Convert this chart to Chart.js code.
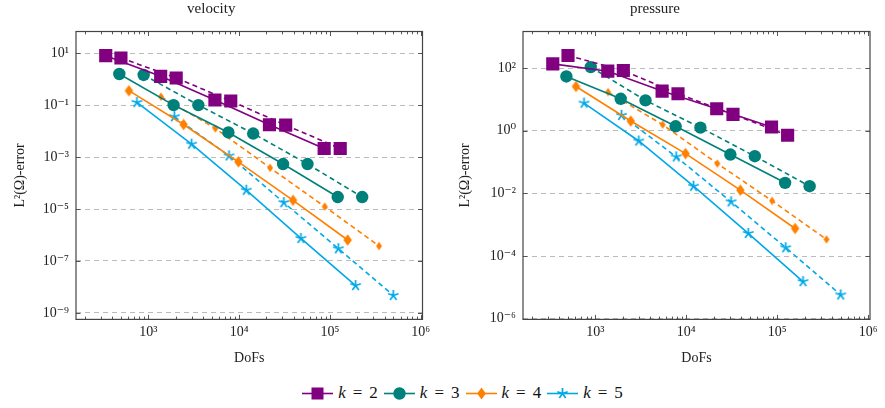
<!DOCTYPE html>
<html>
<head>
<meta charset="utf-8">
<script src="https://cdn.jsdelivr.net/npm/chart.js@4.4.1/dist/chart.umd.min.js"></script>
<style>
  body { margin: 0; background: #fff; width: 885px; height: 408px; overflow: hidden; position: relative; }
  #velBox { position: absolute; left: 0; top: 0; }
  #presBox { position: absolute; left: 440px; top: 0; }
  #legend { position: absolute; top: 383px; left: 20px; width: 885px; text-align: center;
            font-family: "Liberation Serif", serif; font-size: 17px; color: #111; }
  #legend span.item { display: inline-flex; align-items: center; margin: 0 3px; }
  #legend span.eq { margin: 0 7px; }
  #legend svg { margin-right: 5px; }
</style>
</head>
<body>
<div id="velBox"><canvas id="velChart" width="440" height="373"></canvas></div>
<div id="presBox"><canvas id="presChart" width="445" height="373"></canvas></div>
<div id="legend"></div>
<script>
// degrees of freedom, solid and dashed runs
const dofsK2Solid  = [340, 1370, 5420, 21600, 86500];
const dofsK2Dashed = [500, 2030, 8100, 32600, 130000];
const dofsK3Solid  = [480, 1900, 7630, 30500, 122000];
const dofsK3Dashed = [890, 3560, 14300, 56700, 227000];
const dofsK4Solid  = [612, 2450, 9810, 39300, 157000];
const dofsK4Dashed = [1380, 5490, 21950, 87700, 348000];
const dofsK5Solid  = [750, 3000, 12000, 48000, 192000];
const dofsK5Dashed = [1940, 7750, 31100, 124000, 499000];

// velocity L2 errors
const velK2Solid  = [8.1, 1.29, 0.158, 0.0176, 0.00215];
const velK2Dashed = [6.6, 1.12, 0.145, 0.0171, 0.00215];
const velK3Solid  = [1.59, 0.101, 0.0089, 5.4e-4, 2.9e-5];
const velK3Dashed = [1.46, 0.101, 0.0081, 5.4e-4, 2.9e-5];
const velK4Solid  = [0.362, 0.018, 6.6e-4, 2.17e-5, 6.4e-7];
const velK4Dashed = [0.212, 0.0127, 3.85e-4, 1.24e-5, 3.75e-7];
const velK5Solid  = [0.128, 0.00316, 5.3e-5, 7.4e-7, 1.13e-8];
const velK5Dashed = [0.0359, 0.00112, 1.77e-5, 2.96e-7, 4.7e-9];

// pressure L2 errors
const presK2Solid  = [137, 80, 18.5, 5.07, 1.32];
const presK2Dashed = [253, 84, 15.2, 3.34, 0.718];
const presK3Solid  = [54.3, 10.5, 1.39, 0.174, 0.0218];
const presK3Dashed = [108, 9.33, 1.26, 0.154, 0.017];
const presK4Solid  = [26, 2.05, 0.187, 0.0127, 7.6e-4];
const presK4Dashed = [17.2, 1.57, 0.0898, 0.0058, 3.4e-4];
const presK5Solid  = [7.67, 0.473, 0.017, 5.3e-4, 1.53e-5];
const presK5Dashed = [3.11, 0.147, 0.0054, 1.85e-4, 5.75e-6];

const legendLabels = ['k = 2', 'k = 3', 'k = 4', 'k = 5'];
const xTicks = [1e3, 1e4, 1e5, 1e6];
const velYTicks = [1e1, 1e-1, 1e-3, 1e-5, 1e-7, 1e-9];
const presYTicks = [1e2, 1e0, 1e-2, 1e-4, 1e-6];

const colors = ['rgb(128,0,128)', 'rgb(0,128,122)', 'rgb(255,128,0)', 'rgb(0,168,232)'];
const serif = '"Liberation Serif", "DejaVu Serif", serif';

// custom marker canvases (diamond, star)
function diamondCanvas(color, w, h) {
  const c = document.createElement('canvas');
  c.width = Math.ceil(w) + 2; c.height = Math.ceil(h) + 2;
  const g = c.getContext('2d');
  const cx = c.width / 2, cy = c.height / 2;
  g.fillStyle = color;
  g.beginPath();
  g.moveTo(cx, cy - h / 2); g.lineTo(cx + w / 2, cy);
  g.lineTo(cx, cy + h / 2); g.lineTo(cx - w / 2, cy);
  g.closePath(); g.fill();
  return c;
}
function starCanvas(color, r) {
  const c = document.createElement('canvas');
  c.width = c.height = Math.ceil(2 * r) + 4;
  const g = c.getContext('2d');
  const cx = c.width / 2, cy = c.height / 2;
  g.strokeStyle = color; g.lineWidth = 1.7; g.lineCap = 'butt';
  g.beginPath();
  for (let i = 0; i < 5; i++) {
    const a = -Math.PI / 2 + i * 2 * Math.PI / 5;
    g.moveTo(cx, cy);
    g.lineTo(cx + r * Math.cos(a), cy + r * Math.sin(a));
  }
  g.stroke();
  return c;
}

const markers = [
  { solid: { style: 'rect', radius: 9.3 }, dashed: { style: 'rect', radius: 9.3 } },
  { solid: { style: 'circle', radius: 6.2 }, dashed: { style: 'circle', radius: 6.2 } },
  { solid: { style: diamondCanvas(colors[2], 8.5, 11.5) }, dashed: { style: diamondCanvas(colors[2], 6, 8.5) } },
  { solid: { style: starCanvas(colors[3], 5.5) }, dashed: { style: starCanvas(colors[3], 5.5) } }
];

function pts(xs, ys) { return xs.map((x, i) => ({ x: x, y: ys[i] })); }

function sup(n) {
  const m = { '-': '\u207B', '0': '\u2070', '1': '\u00B9', '2': '\u00B2', '3': '\u00B3',
    '4': '\u2074', '5': '\u2075', '6': '\u2076', '7': '\u2077', '8': '\u2078', '9': '\u2079' };
  return String(n).split('').map(ch => m[ch]).join('');
}
function powLabel(v) { return '10' + sup(Math.round(Math.log10(v))); }

function makeSet(k, kind, xs, ys) {
  const mk = markers[k][kind];
  return {
    label: legendLabels[k] + ' ' + kind,
    data: pts(xs, ys),
    showLine: true,
    borderColor: colors[k],
    backgroundColor: colors[k],
    borderWidth: 1.6,
    borderDash: kind === 'dashed' ? [5, 3.5] : [],
    pointStyle: mk.style,
    pointRadius: mk.radius || 5,
    pointBorderWidth: 0,
    pointHoverRadius: mk.radius || 5
  };
}

// inward ticks and frame like pgfplots
const framePlugin = {
  id: 'frame',
  afterDraw(chart) {
    const { ctx, chartArea: a, scales: { x, y } } = chart;
    ctx.save();
    ctx.strokeStyle = '#555';
    ctx.lineWidth = 1;
    ctx.beginPath();
    for (let e = 2; e <= 6; e++) {
      for (let m = 1; m <= 9; m++) {
        const v = m * Math.pow(10, e);
        if (v < x.min || v > x.max) continue;
        const px = Math.round(x.getPixelForValue(v)) + 0.5;
        const len = m === 1 ? 4.5 : 2.8;
        ctx.moveTo(px, a.bottom); ctx.lineTo(px, a.bottom - len);
        ctx.moveTo(px, a.top); ctx.lineTo(px, a.top + len);
      }
    }
    y.ticks.forEach(t => {
      const py = Math.round(y.getPixelForValue(t.value)) + 0.5;
      ctx.moveTo(a.left, py); ctx.lineTo(a.left + 4.5, py);
      ctx.moveTo(a.right, py); ctx.lineTo(a.right - 4.5, py);
    });
    ctx.stroke();
    ctx.lineWidth = 1.2;
    ctx.strokeStyle = '#444';
    ctx.strokeRect(a.left, a.top, a.right - a.left, a.bottom - a.top);
    ctx.restore();
  }
};

function buildChart(id, title, sets, yMin, yMax, yTicks, yWidth, padRight, yTitlePad) {
  return new Chart(document.getElementById(id), {
    type: 'scatter',
    data: { datasets: sets },
    plugins: [framePlugin],
    options: {
      responsive: false,
      animation: false,
      layout: { padding: { left: 0, right: padRight, top: 0, bottom: 1.5 } },
      plugins: {
        legend: { display: false },
        tooltip: { enabled: false },
        title: {
          display: true, text: title, color: '#222',
          font: { family: serif, size: 15, weight: 'normal' },
          padding: { top: 0, bottom: 13.5 }
        }
      },
      scales: {
        x: {
          type: 'logarithmic', min: 160, max: 1.047e6,
          afterBuildTicks: s => { s.ticks = xTicks.map(v => ({ value: v })); },
          ticks: { callback: v => powLabel(v), color: '#222', padding: 4.5, maxRotation: 0,
                   font: { family: serif, size: 14 } },
          grid: { display: false, drawTicks: false },
          border: { display: false },
          title: { display: true, text: 'DoFs', color: '#222',
                   font: { family: serif, size: 14 }, padding: { top: 4.5, bottom: 5 } }
        },
        y: {
          type: 'logarithmic', min: yMin, max: yMax,
          afterBuildTicks: s => { s.ticks = yTicks.map(v => ({ value: v })); },
          afterFit: s => { s.width = yWidth; },
          ticks: { callback: v => powLabel(v), color: '#222', padding: 7,
                   font: { family: serif, size: 14 } },
          grid: { color: '#bbb', lineWidth: 1, drawTicks: false },
          border: { display: false, dash: [5, 4] },
          title: { display: true, text: 'L\u00B2(\u03A9)-error', color: '#222',
                   font: { family: serif, size: 14 }, padding: { top: yTitlePad, bottom: 0 } }
        }
      }
    }
  });
}

const velSets = [
  makeSet(0, 'solid', dofsK2Solid, velK2Solid), makeSet(0, 'dashed', dofsK2Dashed, velK2Dashed),
  makeSet(1, 'solid', dofsK3Solid, velK3Solid), makeSet(1, 'dashed', dofsK3Dashed, velK3Dashed),
  makeSet(2, 'solid', dofsK4Solid, velK4Solid), makeSet(2, 'dashed', dofsK4Dashed, velK4Dashed),
  makeSet(3, 'solid', dofsK5Solid, velK5Solid), makeSet(3, 'dashed', dofsK5Dashed, velK5Dashed)
];
const presSets = [
  makeSet(0, 'solid', dofsK2Solid, presK2Solid), makeSet(0, 'dashed', dofsK2Dashed, presK2Dashed),
  makeSet(1, 'solid', dofsK3Solid, presK3Solid), makeSet(1, 'dashed', dofsK3Dashed, presK3Dashed),
  makeSet(2, 'solid', dofsK4Solid, presK4Solid), makeSet(2, 'dashed', dofsK4Dashed, presK4Dashed),
  makeSet(3, 'solid', dofsK5Solid, presK5Solid), makeSet(3, 'dashed', dofsK5Dashed, presK5Dashed)
];

buildChart('velChart', 'velocity', velSets, 5.6e-10, 69, velYTicks, 76, 17.5, 12);
buildChart('presChart', 'pressure', presSets, 9.5e-7, 1480, presYTicks, 83, 15, 17);

// shared legend
const legendIcons = [
  '<rect x="9.5" y="3.5" width="12" height="12" fill="C"/>',
  '<circle cx="15.5" cy="9.5" r="6.2" fill="C"/>',
  '<polygon points="15.5,3.5 19.8,9.5 15.5,15.5 11.2,9.5" fill="C"/>',
  '<g stroke="C" stroke-width="1.7"><line x1="15.5" y1="9.5" x2="15.5" y2="4"/><line x1="15.5" y1="9.5" x2="20.7" y2="7.8"/><line x1="15.5" y1="9.5" x2="18.7" y2="14"/><line x1="15.5" y1="9.5" x2="12.3" y2="14"/><line x1="15.5" y1="9.5" x2="10.3" y2="7.8"/></g>'
];
document.getElementById('legend').innerHTML = legendLabels.map((lab, k) => {
  const c = colors[k];
  const svg = '<svg width="31" height="19"><line x1="0" y1="9.5" x2="31" y2="9.5" stroke="' + c +
    '" stroke-width="1.6"/>' + legendIcons[k].replace(/C/g, c) + '</svg>';
  const parts = lab.split(' = ');
  return '<span class="item">' + svg + '<i>' + parts[0] + '</i><span class="eq">=</span>' + parts[1] + '</span>';
}).join('');
</script>
</body>
</html>
